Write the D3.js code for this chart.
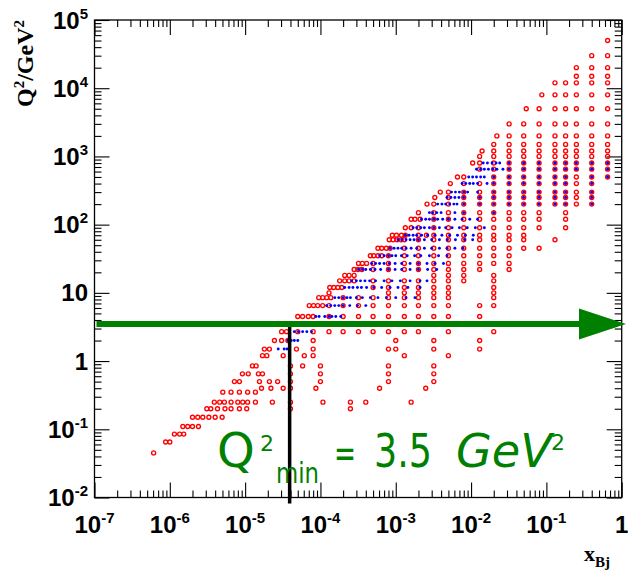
<!DOCTYPE html>
<html><head><meta charset="utf-8">
<script src="https://cdn.jsdelivr.net/npm/d3@7"></script>
<style>body{margin:0;background:#fff;} svg{display:block;}</style>
</head><body>
<script>
// ---------- data ----------
const xTickExps = [-7, -6, -5, -4, -3, -2, -1, 0];
const yTickExps = [-2, -1, 0, 1, 2, 3, 4, 5];
const xDomain = [1e-7, 1];
const yDomain = [1e-2, 1e5];
const q2min = 3.5;
const xCutLine = 3.9e-5;

const redQ2 = [0.045, 0.065, 0.085, 0.11, 0.15, 0.2, 0.25, 0.35, 0.4, 0.5, 0.65, 0.85, 1.2, 1.5, 2, 2.7,
  4.5, 6.5, 8.5, 10, 12, 15, 18, 22, 27, 35, 45, 60, 70, 90, 120, 150, 200, 250, 300, 400, 500, 650,
  800, 1000, 1200, 1500, 2000, 3000, 5000, 8000, 12000, 15000, 20000, 30000, 50000];
const redX = [
  [6.1e-7],
  [8.8e-7, 1.0e-6],
  [1.15e-6, 1.35e-6, 1.53e-6],
  [1.49e-6, 1.73e-6, 2.0e-6, 2.4e-6],
  [2.0e-6, 2.35e-6, 2.74e-6, 3.3e-6, 4.0e-6, 4.95e-6],
  [3.1e-6, 3.5e-6, 4.3e-6, 5.4e-6, 6.5e-6, 8.4e-6, 1.05e-5, 4.0e-5, 2.5e-4],
  [3.9e-6, 4.6e-6, 5.3e-6, 6.5e-6, 8.0e-6, 9.3e-6, 1.08e-5, 1.37e-5, 2.3e-5, 4.0e-5, 1.08e-4, 2.5e-4, 4.0e-4, 1.6e-3],
  [5.05e-6, 6.5e-6, 8.4e-6, 1.08e-5, 1.37e-5],
  [1.65e-5, 2.2e-5, 3.2e-5, 4.0e-5, 8.7e-5, 6.1e-4, 2.5e-3],
  [7.2e-6, 8.4e-6, 1.55e-5, 2.1e-5, 2.7e-5, 4.0e-5, 1.0e-4, 8e-4, 3.2e-3],
  [9.2e-6, 1.1e-5, 1.5e-5, 1.7e-5, 4.0e-5, 1.0e-4, 8e-4, 3.2e-3],
  [1.25e-5, 1.4e-5, 4.0e-5, 5.8e-5, 1.0e-4, 8e-4, 3.2e-3],
  [1.7e-5, 1.94e-5, 3.2e-5, 6.1e-5, 8e-5, 1.3e-3, 5e-3],
  [1.8e-5, 2.1e-5, 4.8e-5, 8e-5, 8e-4, 1.0e-3, 3.2e-3, 0.013],
  [2.45e-5, 3.05e-5, 3.7e-5, 8e-5, 1.0e-3, 3.2e-3, 0.013],
  [3.05e-5, 3.55e-5, 5e-5, 8e-5, 1.3e-4, 2e-4, 3.2e-4, 5e-4, 8e-4, 1.3e-3, 2e-3, 5e-3, 0.02],
  [5e-5, 5.8e-5, 6.9e-5, 8e-5, 1.3e-4, 2e-4, 3.2e-4, 5e-4, 8e-4, 1.3e-3, 2e-3, 3.2e-3, 5e-3, 0.013],
  [7.1e-5, 8.1e-5, 9.2e-5, 1.07e-4, 1.3e-4, 2e-4, 3.2e-4, 5e-4, 8e-4, 1.3e-3, 2e-3, 3.2e-3, 5e-3, 0.013, 0.02],
  [9.5e-5, 1.07e-4, 1.21e-4, 1.37e-4, 2e-4, 3.2e-4, 5e-4, 8e-4, 1.3e-3, 2e-3, 3.2e-3, 5e-3, 0.02],
  [1.3e-4, 8e-4, 1.3e-3, 2e-3, 3.2e-3, 5e-3, 0.02],
  [1.33e-4, 1.5e-4, 1.7e-4, 1.92e-4, 5e-4, 8e-4, 1.3e-3, 2e-3, 3.2e-3, 5e-3, 0.02],
  [1.8e-4, 2.1e-4, 2.4e-4, 2.8e-4, 5e-4, 8e-4, 1.3e-3, 2e-3, 3.2e-3, 5e-3, 8e-3, 0.02],
  [2.1e-4, 2.4e-4, 2.8e-4, 3.2e-3, 5e-3, 8e-3, 0.02],
  [2.8e-4, 3.15e-4, 3.55e-4, 5e-4, 8e-4, 1.3e-3, 2e-3, 3.2e-3, 5e-3, 8e-3, 0.013, 0.032],
  [3.2e-4, 3.6e-4, 4.1e-4, 5e-4, 8e-4, 1.3e-3, 2e-3, 3.2e-3, 5e-3, 8e-3, 0.013, 0.02, 0.032],
  [4.6e-4, 5.1e-4, 5.8e-4, 6.5e-4, 8e-4, 1.3e-3, 2e-3, 3.2e-3, 5e-3, 8e-3, 0.013, 0.02, 0.032],
  [5.8e-4, 6.5e-4, 7.5e-4, 8.4e-4, 1.3e-3, 2e-3, 3.2e-3, 5e-3, 8e-3, 0.013, 0.02, 0.032, 0.05, 0.08],
  [8.2e-4, 9.2e-4, 1.04e-3, 1.18e-3, 1.3e-3, 2e-3, 3.2e-3, 5e-3, 8e-3, 0.013, 0.02, 0.032, 0.05, 0.13],
  [9.0e-4, 1.02e-3, 1.19e-3, 1.34e-3, 2e-3, 2.55e-3, 3.2e-3, 5e-3, 8e-3, 0.013, 0.02, 0.032, 0.05],
  [1.34e-3, 1.6e-3, 2e-3, 3.2e-3, 5e-3, 8e-3, 0.013, 0.02, 0.032, 0.05, 0.08, 0.18],
  [1.6e-3, 1.8e-3, 2.1e-3, 3.2e-3, 5e-3, 8e-3, 0.013, 0.02, 0.032, 0.05, 0.08, 0.18],
  [2e-3, 3.2e-3, 5e-3, 8e-3, 0.013, 0.02, 0.032, 0.05, 0.08, 0.18],
  [2.6e-3, 3.2e-3, 5e-3, 8e-3, 0.013, 0.02, 0.032, 0.05, 0.08, 0.13, 0.18, 0.25, 0.4],
  [3.3e-3, 5e-3, 8e-3, 0.013, 0.02, 0.032, 0.05, 0.08, 0.13, 0.18, 0.25, 0.4],
  [3.9e-3, 5e-3, 8e-3, 0.013, 0.02, 0.032, 0.05, 0.08, 0.13, 0.18, 0.25, 0.4],
  [5.3e-3, 8e-3, 0.013, 0.02, 0.032, 0.05, 0.08, 0.13, 0.18, 0.25, 0.4],
  [6.6e-3, 8e-3, 0.02, 0.032, 0.05, 0.08, 0.13, 0.18, 0.25, 0.4, 0.65],
  [0.013, 0.02, 0.032, 0.05, 0.08, 0.13, 0.18, 0.25, 0.4, 0.65],
  [0.0105, 0.013, 0.02, 0.032, 0.05, 0.08, 0.13, 0.18, 0.25, 0.4, 0.65],
  [0.013, 0.02, 0.032, 0.05, 0.08, 0.13, 0.18, 0.25, 0.4, 0.65],
  [0.014, 0.02, 0.032, 0.05, 0.08, 0.13, 0.18, 0.25, 0.4, 0.65],
  [0.02, 0.032, 0.05, 0.08, 0.13, 0.18, 0.25, 0.4, 0.65],
  [0.022, 0.032, 0.05, 0.08, 0.13, 0.18, 0.25, 0.4, 0.65],
  [0.032, 0.05, 0.08, 0.13, 0.18, 0.25, 0.4, 0.65],
  [0.054, 0.08, 0.13, 0.18, 0.25, 0.4, 0.65],
  [0.087, 0.13, 0.18, 0.25, 0.4, 0.65],
  [0.13, 0.18, 0.25, 0.4, 0.65],
  [0.25, 0.4, 0.65],
  [0.25, 0.4, 0.65],
  [0.4, 0.65],
  [0.65]
];

const blueQ2 = [1.5, 2, 2.7, 4.5, 6.5, 8.5, 12, 15, 22, 27, 35, 45, 60, 70, 90, 120, 150, 200, 250, 300, 400, 500, 650, 800];
const blueX = [
  [2.75e-5, 3.3e-5, 3.6e-5],
  [3.7e-5, 4.1e-5, 4.5e-5, 5e-5],
  [4.5e-5, 5.1e-5, 5.8e-5, 6.6e-5, 7.6e-5],
  [8.7e-5, 9.6e-5, 1.14e-4, 1.3e-4, 1.42e-4, 1.6e-4, 1.86e-4],
  [1.21e-4, 1.37e-4, 1.55e-4, 1.75e-4, 2e-4, 2.45e-4, 3.1e-4, 4.0e-4],
  [1.55e-4, 1.75e-4, 2e-4, 2.25e-4, 2.5e-4, 3.0e-4, 3.6e-4, 4.6e-4, 5.8e-4, 7.5e-4, 1.0e-3, 1.37e-3, 1.8e-3],
  [2.1e-4, 2.4e-4, 2.7e-4, 3.1e-4, 3.5e-4, 4.1e-4, 5.1e-4, 6.5e-4, 8.4e-4, 1.07e-3, 1.45e-3, 2.1e-3],
  [2.6e-4, 3.0e-4, 3.4e-4, 3.9e-4, 4.5e-4, 5.4e-4, 7.0e-4, 8.9e-4, 1.15e-3, 1.55e-3, 2.1e-3, 2.6e-3],
  [3.2e-4, 3.6e-4, 4.0e-4, 4.6e-4, 5.3e-4, 6.3e-4, 8e-4, 9.8e-4, 1.2e-3, 1.55e-3, 2e-3, 2.65e-3, 3.5e-3],
  [4.8e-4, 5.4e-4, 6.1e-4, 7.0e-4, 8.2e-4, 9.8e-4, 1.2e-3, 1.55e-3, 2e-3, 2.6e-3, 3.3e-3, 4.3e-3],
  [6.1e-4, 7e-4, 8e-4, 8.9e-4, 1e-3, 1.19e-3, 1.42e-3, 1.78e-3, 2.15e-3, 2.8e-3, 3.7e-3, 4.8e-3],
  [8.4e-4, 9.5e-4, 1.07e-3, 1.2e-3, 1.37e-3, 1.6e-3, 1.9e-3, 2.4e-3, 3e-3, 3.8e-3, 4.8e-3, 6.1e-3, 7.8e-3],
  [1.07e-3, 1.2e-3, 1.37e-3, 1.55e-3, 1.75e-3, 2e-3, 2.4e-3, 3e-3, 3.8e-3, 4.85e-3, 6.2e-3, 8.2e-3, 0.0105],
  [1.34e-3, 1.5e-3, 1.7e-3, 1.9e-3, 2.2e-3, 2.65e-3, 3.3e-3, 4.1e-3, 5.2e-3, 6.6e-3, 8.4e-3, 0.0107],
  [1.7e-3, 1.9e-3, 2.15e-3, 2.4e-3, 2.8e-3, 3.2e-3, 3.8e-3, 4.6e-3, 5.6e-3, 7e-3, 8.9e-3, 0.0114, 0.015],
  [2.2e-3, 2.5e-3, 2.8e-3, 3.2e-3, 3.6e-3, 4.2e-3, 5e-3, 6.1e-3, 7.6e-3, 9.6e-3, 0.0122],
  [2.8e-3, 3.1e-3, 3.5e-3, 4e-3, 6.1e-3, 8e-3, 0.02],
  [3.6e-3, 4.1e-3, 4.6e-3, 5.2e-3, 5.9e-3, 6.5e-3, 8e-3, 0.013, 0.02, 0.032, 0.05, 0.08, 0.13, 0.18, 0.4],
  [4.8e-3, 5.4e-3, 6.1e-3, 6.9e-3, 8e-3, 0.013, 0.02, 0.032, 0.05, 0.08, 0.13, 0.18, 0.4],
  [5.5e-3, 6.2e-3, 7e-3, 8e-3, 9e-3, 0.0122, 0.02, 0.032, 0.05, 0.08, 0.13, 0.18, 0.4],
  [7.6e-3, 8.5e-3, 9.6e-3, 0.0107, 0.0122, 0.0163, 0.02, 0.032, 0.05, 0.08, 0.13, 0.18, 0.4],
  [9.3e-3, 0.0105, 0.0118, 0.0134, 0.015, 0.02, 0.032, 0.05, 0.08, 0.13, 0.18, 0.4, 0.65],
  [0.0118, 0.0134, 0.015, 0.017, 0.0195, 0.022, 0.0265, 0.032, 0.05, 0.08, 0.13, 0.18, 0.25, 0.4, 0.65],
  [0.0145, 0.0165, 0.019, 0.0215, 0.024, 0.032, 0.05, 0.08, 0.13, 0.18, 0.25, 0.4, 0.65]
];

// ---------- layout ----------
const W = 628, H = 575;
const L = 94.5, R = 621.7, T = 20, B = 497.5;
const green = "#008000";

const svg = d3.select("body").append("svg").attr("width", W).attr("height", H)
  .style("font-family", "'Liberation Sans', Arial, sans-serif");
svg.append("rect").attr("width", W).attr("height", H).attr("fill", "#fff");

const x = d3.scaleLog().domain(xDomain).range([L, R]);
const y = d3.scaleLog().domain(yDomain).range([B, T]);

const xMajor = xTickExps.map(e => Math.pow(10, e));
const yMajor = yTickExps.map(e => Math.pow(10, e));
const minorOf = (exps) => {
  const out = [];
  exps.slice(0, -1).forEach(e => { for (let k = 2; k <= 9; k++) out.push(k * Math.pow(10, e)); });
  return out;
};
const xMinor = minorOf(xTickExps);
const yMinor = minorOf(yTickExps);

function addAxis(gen, vals, size, tr) {
  const g = svg.append("g").attr("transform", tr)
    .call(gen.tickValues(vals).tickSizeInner(-size).tickSizeOuter(0).tickFormat(""));
  g.select(".domain").remove();
  g.selectAll("line").attr("stroke", "#000").attr("stroke-width", 1.1);
  g.selectAll("text").remove();
}
addAxis(d3.axisBottom(x), xMajor, 15, `translate(0,${B})`);
addAxis(d3.axisBottom(x), xMinor, 7, `translate(0,${B})`);
addAxis(d3.axisTop(x), xMajor, 15, `translate(0,${T})`);
addAxis(d3.axisTop(x), xMinor, 7, `translate(0,${T})`);
addAxis(d3.axisLeft(y), yMajor, 15, `translate(${L},0)`);
addAxis(d3.axisLeft(y), yMinor, 7, `translate(${L},0)`);
addAxis(d3.axisRight(y), yMajor, 15, `translate(${R},0)`);
addAxis(d3.axisRight(y), yMinor, 7, `translate(${R},0)`);

svg.append("rect").attr("x", L).attr("y", T).attr("width", R - L).attr("height", B - T)
  .attr("fill", "none").attr("stroke", "#000").attr("stroke-width", 1.3);

function label(g, e) {
  if (e === 0) { g.append("tspan").text("1"); return; }
  if (e === 1) { g.append("tspan").text("10"); return; }
  g.append("tspan").text("10");
  g.append("tspan").attr("dy", -10).attr("font-size", 15).text(String(e));
}
xTickExps.forEach(e => {
  const t = svg.append("text").attr("x", x(Math.pow(10, e))).attr("y", 533)
    .attr("text-anchor", "middle").attr("font-size", 24).attr("font-weight", "bold").attr("fill", "#000");
  label(t, e);
});
yTickExps.forEach(e => {
  const t = svg.append("text").attr("x", 88).attr("y", y(Math.pow(10, e)) + 8.5)
    .attr("text-anchor", "end").attr("font-size", 24).attr("font-weight", "bold").attr("fill", "#000");
  label(t, e);
});

const yt = svg.append("text").attr("transform", `translate(33,${T}) rotate(-90)`)
  .attr("text-anchor", "end").attr("font-family", "'Liberation Serif', 'Times New Roman', serif")
  .attr("font-weight", "bold").attr("font-size", 24).attr("fill", "#000");
yt.append("tspan").text("Q");
yt.append("tspan").attr("dy", -9).attr("font-size", 15).text("2");
yt.append("tspan").attr("dy", 9).text("/GeV");
yt.append("tspan").attr("dy", -9).attr("font-size", 15).text("2");

const xt = svg.append("text").attr("x", 584).attr("y", 561)
  .attr("font-family", "'Liberation Serif', 'Times New Roman', serif")
  .attr("font-weight", "bold").attr("font-size", 22).attr("fill", "#000");
xt.append("tspan").text("x");
xt.append("tspan").attr("dy", 6).attr("font-size", 15).text("Bj");

// ---------- data marks ----------
const redPts = [];
redQ2.forEach((q, i) => redX[i].forEach(v => redPts.push([v, q])));
const bluePts = [];
blueQ2.forEach((q, i) => blueX[i].forEach(v => bluePts.push([v, q])));

svg.append("g").selectAll("circle").data(redPts).join("circle")
  .attr("cx", d => x(d[0])).attr("cy", d => y(d[1])).attr("r", 2)
  .attr("fill", "none").attr("stroke", "#ff0000").attr("stroke-width", 1.35);

svg.append("g").selectAll("circle").data(bluePts).join("circle")
  .attr("cx", d => x(d[0])).attr("cy", d => y(d[1])).attr("r", 1.45)
  .attr("fill", "#0000ff");

// ---------- annotations ----------
svg.append("line").attr("x1", x(xCutLine)).attr("x2", x(xCutLine))
  .attr("y1", y(q2min)).attr("y2", B + 6).attr("stroke", "#000").attr("stroke-width", 3.5);

const ya = y(q2min);
svg.append("line").attr("x1", L + 2).attr("x2", 585).attr("y1", ya).attr("y2", ya)
  .attr("stroke", green).attr("stroke-width", 6);
svg.append("path").attr("d", `M579,${ya - 15.5} L626,${ya} L579,${ya + 15.5} Z`).attr("fill", green);

const big = svg.append("g").attr("fill", green).style("font-family", "'DejaVu Sans', sans-serif");
big.append("text").attr("x", 217).attr("y", 467).attr("font-size", 48).text("Q");
big.append("text").attr("x", 260).attr("y", 451).attr("font-size", 22).text("2");
big.append("text").attr("x", 276).attr("y", 483).attr("font-size", 28)
  .attr("textLength", 43).attr("lengthAdjust", "spacingAndGlyphs").text("min");
big.append("text").attr("x", 334).attr("y", 467).attr("font-size", 40)
  .attr("textLength", 22).attr("lengthAdjust", "spacingAndGlyphs").text("=");
big.append("text").attr("x", 374).attr("y", 467).attr("font-size", 46)
  .attr("textLength", 58).attr("lengthAdjust", "spacingAndGlyphs").text("3.5");
big.append("text").attr("x", 456).attr("y", 467).attr("font-size", 46).attr("font-style", "italic")
  .attr("textLength", 96).attr("lengthAdjust", "spacingAndGlyphs").text("GeV");
big.append("text").attr("x", 551).attr("y", 450).attr("font-size", 22).text("2");
</script>
</body></html>
